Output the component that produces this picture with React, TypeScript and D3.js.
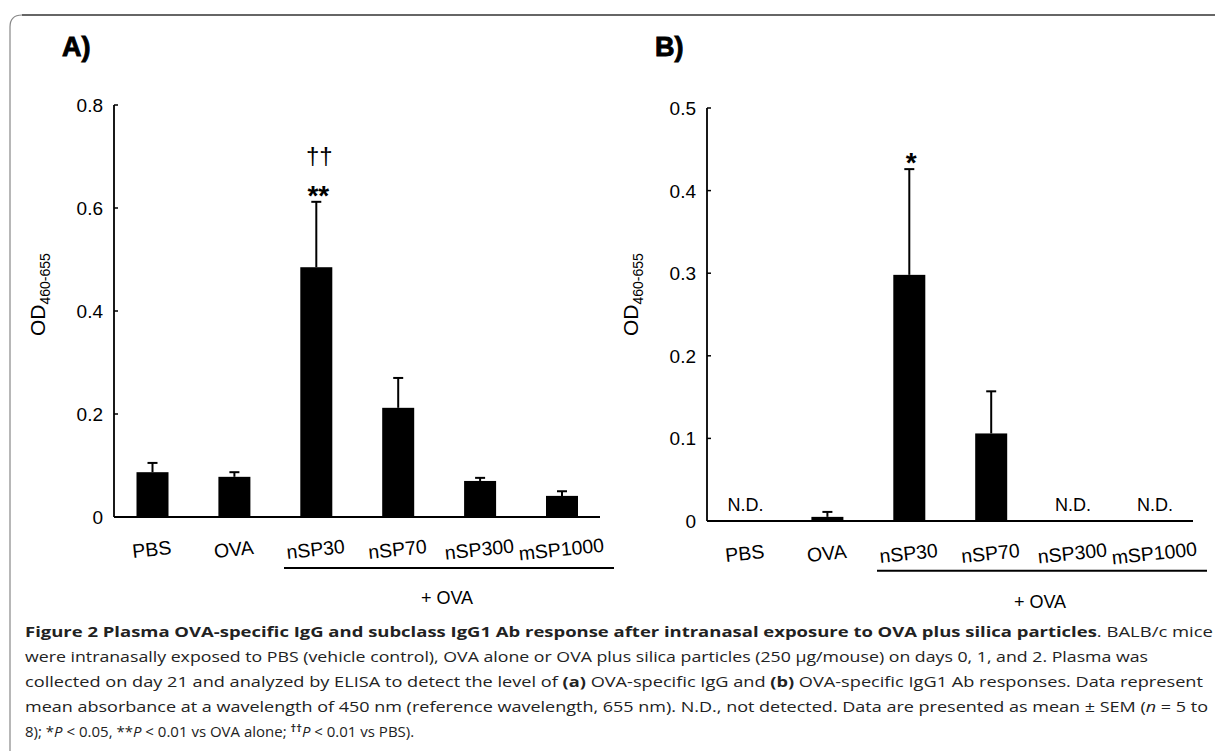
import React from "react";
import * as d3 from "d3";

// groups on the x axis (same for both panels)
const categories = ["PBS", "OVA", "nSP30", "nSP70", "nSP300", "mSP1000"];

// panel A: OVA-specific IgG, OD450-655
const iggMean = [0.087, 0.078, 0.485, 0.212, 0.07, 0.041];
const iggSem = [0.018, 0.009, 0.127, 0.058, 0.006, 0.009];
const iggTicks = [0, 0.2, 0.4, 0.6, 0.8];
const iggDaggers = ["", "", "††", "", "", ""];
const iggStars = ["", "", "**", "", "", ""];

// panel B: OVA-specific IgG1 (null = not detected)
const igg1Mean = [null, 0.005, 0.298, 0.106, null, null];
const igg1Sem = [null, 0.006, 0.128, 0.051, null, null];
const igg1Ticks = [0, 0.1, 0.2, 0.3, 0.4, 0.5];
const igg1Daggers = ["", "", "", "", "", ""];
const igg1Stars = ["", "", "*", "", "", ""];

const groupLabel = "+ OVA";
const axisTitle = "OD";
const axisSub = "460-655";

const chartFont = "'Liberation Sans', Arial, sans-serif";
const capFont = "'Open Sans', 'Noto Sans', sans-serif";

type PanelProps = {
  letter: string;
  dx: number;
  y0: number;
  y1: number;
  ymax: number;
  ticks: number[];
  means: (number | null)[];
  sems: (number | null)[];
  daggers: string[];
  stars: string[];
};

const fmt = (d: number) => (d === 0 ? "0" : d3.format(".1f")(d));

function Panel(props: PanelProps) {
  const { letter, dx, y0, y1, ymax, ticks, means, sems, daggers, stars } = props;
  const axisX = 114 + dx;
  const x = d3.scalePoint<string>().domain(categories).range([152.5 + dx, 562 + dx]);
  const y = d3.scaleLinear().domain([0, ymax]).range([y0, y1]);
  const barW = 32;
  const drop = dx / 150; // panel B sits a few px lower

  return (
    <g>
      <text x={62 + dx} y={56} fontFamily={chartFont} fontWeight="bold" fontSize={27}
        stroke="#000" strokeWidth={0.9}>{letter}</text>

      {/* y axis */}
      <line x1={axisX} x2={axisX} y1={y(0)} y2={y(ymax)} stroke="#000" strokeWidth={1.8} />
      {ticks.map((t) => (
        <g key={t}>
          <line x1={axisX} x2={axisX + 4} y1={y(t)} y2={y(t)} stroke="#000" strokeWidth={1.5} />
          <text x={axisX - 11} y={y(t) + 7} textAnchor="end" fontFamily={chartFont} fontSize={19}>
            {fmt(t)}
          </text>
        </g>
      ))}
      <text transform={`translate(${45 + dx},336) rotate(-90)`} fontFamily={chartFont} fontSize={21}>
        {axisTitle}
        <tspan fontSize={14} dy={5}>{axisSub}</tspan>
      </text>

      {/* baseline */}
      <line x1={axisX} x2={600 + dx} y1={y(0)} y2={y(0)} stroke="#000" strokeWidth={2} />

      {categories.map((c, i) => {
        const cx = x(c) as number;
        const m = means[i];
        const s = sems[i];
        return (
          <g key={c}>
            {m === null ? (
              <text x={cx} y={y(0) - 10} textAnchor="middle" fontFamily={chartFont} fontSize={18}>N.D.</text>
            ) : (
              <g>
                <rect x={cx - barW / 2} y={y(m)} width={barW} height={y(0) - y(m)} fill="#000" />
                <line x1={cx} x2={cx} y1={y(m)} y2={y(m + (s as number))} stroke="#000" strokeWidth={2} />
                <line x1={cx - 5} x2={cx + 5} y1={y(m + (s as number))} y2={y(m + (s as number))}
                  stroke="#000" strokeWidth={2} />
                {stars[i] && (
                  <text x={cx + 2} y={y(m + (s as number)) + 3} textAnchor="middle" fontFamily={chartFont}
                    fontWeight="bold" fontSize={28}>{stars[i]}</text>
                )}
                {daggers[i] && (
                  <text x={cx + 3} y={y(m + (s as number)) - 38} textAnchor="middle" fontFamily={chartFont}
                    fontSize={24}>{daggers[i]}</text>
                )}
              </g>
            )}
            <text transform={`translate(${cx},${556 + drop}) rotate(-6)`} textAnchor="middle"
              fontFamily={chartFont} fontSize={19.5}>{c}</text>
          </g>
        );
      })}

      {/* +OVA bracket */}
      <line x1={284 + dx} x2={614 + dx} y1={568 + drop * 0.7} y2={568 + drop * 0.7} stroke="#000" strokeWidth={1.8} />
      <text x={447 + dx} y={604 + drop} textAnchor="middle" fontFamily={chartFont} fontSize={18}>
        {groupLabel}
      </text>
    </g>
  );
}

export default function App() {
  return (
    <svg width={1215} height={751} style={{ display: "block", position: "absolute", left: 0, top: 0 }}>
      <rect width={1215} height={751} fill="#fff" />
      <path d="M10,751 V27 Q10,15 22,15" fill="none" stroke="#888" strokeWidth={1.2} />
      <line x1={22} x2={1215} y1={15} y2={15} stroke="#333" strokeWidth={1.5} />

      <Panel letter="A)" dx={0} y0={517} y1={105} ymax={0.8} ticks={iggTicks}
        means={iggMean} sems={iggSem} daggers={iggDaggers} stars={iggStars} />
      <Panel letter="B)" dx={593} y0={521} y1={108} ymax={0.5} ticks={igg1Ticks}
        means={igg1Mean} sems={igg1Sem} daggers={igg1Daggers} stars={igg1Stars} />

      <g fontFamily={capFont} fontSize={15} fill="#222">
        <text x={25} y={637} textLength={1188} lengthAdjust="spacingAndGlyphs">
          <tspan fontWeight="bold">Figure 2 Plasma OVA-specific IgG and subclass IgG1 Ab response after intranasal exposure to OVA plus silica particles</tspan>. BALB/c mice
        </text>
        <text x={25} y={662} textLength={1123} lengthAdjust="spacingAndGlyphs">
          were intranasally exposed to PBS (vehicle control), OVA alone or OVA plus silica particles (250 μg/mouse) on days 0, 1, and 2. Plasma was
        </text>
        <text x={25} y={687} textLength={1178} lengthAdjust="spacingAndGlyphs">
          collected on day 21 and analyzed by ELISA to detect the level of <tspan fontWeight="bold">(a)</tspan> OVA-specific IgG and <tspan fontWeight="bold">(b)</tspan> OVA-specific IgG1 Ab responses. Data represent
        </text>
        <text x={25} y={712} textLength={1183} lengthAdjust="spacingAndGlyphs">
          mean absorbance at a wavelength of 450 nm (reference wavelength, 655 nm). N.D., not detected. Data are presented as mean ± SEM (<tspan fontStyle="italic">n</tspan> = 5 to
        </text>
        <text x={25} y={737}>
          8); *<tspan fontStyle="italic">P</tspan> &lt; 0.05, **<tspan fontStyle="italic">P</tspan> &lt; 0.01 vs OVA alone; <tspan fontWeight="bold" fontSize={11} dy={-5}>††</tspan><tspan fontStyle="italic" dy={5}>P</tspan> &lt; 0.01 vs PBS).
        </text>
      </g>
    </svg>
  );
}
